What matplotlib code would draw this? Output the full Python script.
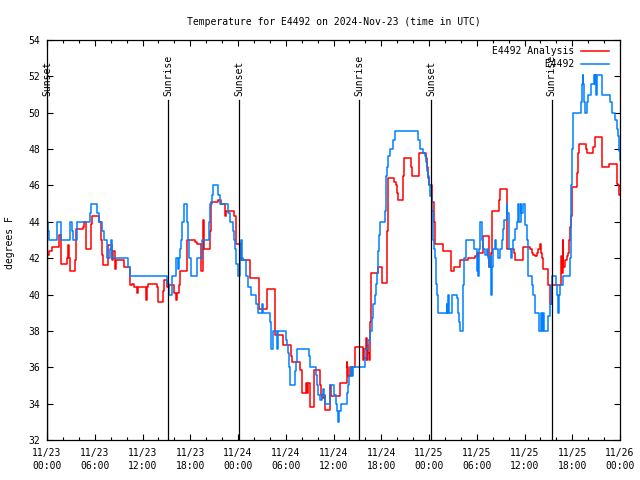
#!/usr/bin/env python3

import numpy as np
import pandas as pd

import matplotlib
matplotlib.use("Agg")

import matplotlib.pyplot as plt
import matplotlib.dates as mdates


# --- data (hours after 2024-11-23 00:00 UTC, deg F) ---
start = pd.Timestamp("2024-11-23 00:00")

obs_hours = [0.0, 0.15, 0.29, 1.3, 1.72, 2.89, 3.1, 3.3, 3.8, 5.4, 5.55, 6.3, 6.5, 6.87, 7.16, 7.5, 7.6, 7.9, 8.1, 8.2,
             10.2, 10.43, 15.12, 15.37, 15.67, 16.2, 16.4, 16.6, 16.71, 16.85, 16.92, 17.2, 17.55, 17.76, 17.88, 18.05,
             18.81, 19.5, 20.3, 20.5, 20.69, 20.9, 21.53, 21.75, 22.7, 23.0, 23.33, 23.5, 23.65, 23.8, 23.95, 24.04,
             24.25, 24.4, 24.55, 24.67, 25.0, 25.3, 25.6, 26.3, 26.55, 27.0, 27.1, 28.0, 28.2, 28.45, 28.9, 29.0,
             30.0, 30.2, 30.31, 30.45, 30.55, 31.1, 31.3, 31.45, 32.95, 33.1, 33.8, 33.9, 34.1, 34.3, 34.6, 34.72,
             34.8, 34.9, 35.6, 36.1, 36.35, 36.5, 36.6, 36.7, 36.9, 37.75, 37.85, 38.0, 38.15, 38.3, 38.4, 39.96,
             40.1, 40.38, 40.6, 40.8, 41.0, 41.2, 41.35, 41.43, 41.64, 41.78, 41.85, 42.47, 42.6, 42.68, 42.9, 43.1,
             43.52, 43.73, 46.66, 46.87, 47.2, 47.5, 47.6, 47.71, 47.85, 48.0, 48.13, 48.33, 48.45, 48.54, 48.6,
             48.75, 48.88, 49.0, 49.17, 50.22, 50.3, 50.43, 50.55, 50.85, 51.48, 51.69, 51.8, 51.9, 52.23, 52.32,
             52.45, 52.6, 53.65, 54.0, 54.1, 54.2, 54.3, 54.41, 54.6, 54.7, 54.83, 55.04, 55.25, 55.46, 55.55, 55.67,
             55.75, 55.85, 55.9, 56.0, 56.1, 56.3, 56.45, 56.72, 56.93, 57.14, 57.25, 57.4, 57.76, 57.85, 58.0, 58.1,
             58.25, 58.39, 58.6, 58.81, 59.02, 59.23, 59.35, 59.5, 59.6, 59.86, 60.07, 60.28, 60.4, 60.49, 60.91,
             61.12, 61.33, 61.88, 62.05, 62.17, 62.3, 62.47, 63.0, 63.22, 63.3, 63.4, 63.95, 64.04, 64.2, 64.3, 64.46,
             64.88, 65.72, 65.8, 65.9, 66.0, 66.14, 67.1, 67.18, 67.3, 67.39, 67.47, 67.55, 67.85, 67.93, 68.4, 68.7,
             68.8, 68.9, 69.0, 69.1, 69.7, 69.8, 70.74, 70.95, 71.35, 71.58, 71.79, 71.9, 72.0]
obs_temp = [44.0, 43.5, 43.0, 44.0, 43.0, 44.0, 43.5, 43.0, 44.0, 44.5, 45.0, 44.5, 44.0, 43.5, 43.0, 42.5, 42.0, 42.5, 43.0, 42.0,
            41.5, 41.0, 40.6, 40.0, 41.0, 42.0, 41.4, 42.0, 42.5, 43.0, 44.0, 45.0, 44.0, 43.0, 42.0, 41.0,
            42.0, 43.0, 44.0, 45.0, 45.5, 46.0, 45.5, 45.0, 44.5, 44.0, 43.5, 43.0, 42.5, 41.7, 41.2, 41.0,
            41.9, 43.0, 42.0, 41.9, 41.0, 40.4, 40.0, 39.5, 39.0, 39.5, 39.0, 38.5, 37.0, 38.0, 37.0, 38.0,
            37.5, 37.2, 36.8, 36.0, 35.0, 35.8, 36.3, 37.0, 36.6, 36.0, 35.6, 35.0, 34.5, 34.2, 34.5, 34.8,
            34.4, 34.0, 35.0, 34.5, 34.0, 33.6, 33.0, 33.6, 34.0, 34.6, 35.0, 35.5, 36.0, 35.5, 36.0, 36.5,
            37.0, 37.5, 38.0, 38.7, 39.5, 40.0, 40.6, 41.2, 42.4, 43.3, 44.0, 44.6, 46.5, 47.0, 47.6, 48.0,
            48.5, 49.0, 48.5, 48.0, 47.8, 47.6, 47.3, 46.8, 46.5, 46.0, 45.4, 44.6, 44.0, 43.0, 42.5,
            42.0, 40.6, 40.0, 39.0, 39.5, 39.0, 40.0, 39.0, 40.0, 39.8, 39.0, 38.5, 38.0, 38.5, 40.5,
            42.0, 43.0, 42.5, 41.3, 42.0, 41.0, 42.5, 44.0, 43.5, 43.0, 42.5, 42.2, 42.5, 42.0, 41.5, 42.1,
            40.5, 40.0, 41.5, 42.1, 42.5, 43.0, 42.5, 42.0, 42.5, 43.0, 43.6, 44.1, 45.0, 44.5, 43.0, 42.5,
            42.0, 42.5, 43.0, 43.6, 44.0, 45.0, 44.0, 45.0, 44.5, 45.0, 43.8, 43.0, 42.1, 41.0, 40.5,
            40.0, 39.0, 38.0, 39.0, 38.0, 39.0, 38.0, 38.8, 39.5, 40.5, 41.0, 40.5, 40.0, 39.0, 40.0, 40.5,
            41.0, 42.0, 43.0, 46.0, 48.0, 50.0, 50.6, 51.6, 52.1, 51.6, 50.6, 50.0, 50.6, 51.0, 51.6, 52.1,
            51.6, 52.1, 51.0, 52.1, 51.6, 51.0, 50.6, 50.0, 49.6, 49.1, 48.7, 47.9, 47.4]

ana_hours = [0.0, 0.3, 0.59, 1.55, 1.72, 2.47, 2.68, 2.81, 2.89, 3.52, 3.64, 4.48, 4.65, 4.9, 5.53, 5.7, 6.58, 6.79,
             6.87, 6.99, 7.62, 8.13, 8.34, 8.55, 8.67, 9.68, 10.43, 10.7, 10.98, 11.27, 11.48, 12.44, 12.52, 12.73,
             13.85, 13.99, 14.62, 14.7, 15.12, 15.3, 15.96, 16.2, 16.38, 16.63, 16.75, 17.55, 18.6, 18.9, 19.35,
             19.56, 19.73, 20.48, 20.6, 21.53, 21.82, 22.37, 22.5, 23.5, 23.75, 24.4, 25.45, 25.55, 26.6, 26.7,
             27.65, 27.7, 28.64, 29.6, 29.69, 30.6, 30.74, 31.79, 32.1, 32.6, 32.68, 32.8, 33.04, 33.6, 34.3, 34.4,
             34.6, 34.85, 34.95, 35.6, 35.65, 36.85, 37.65, 37.7, 37.75, 37.8, 38.07, 38.75, 39.66, 39.85, 40.05,
             40.17, 40.25, 40.38, 40.5, 40.6, 40.7, 41.64, 42.1, 42.75, 42.8, 43.6, 43.85, 43.94, 44.15, 44.78,
             44.85, 45.7, 45.83, 46.7, 46.8, 47.6, 47.75, 47.85, 48.0, 48.34, 48.65, 48.76, 49.8, 50.8, 51.1,
             51.85, 52.9, 53.78, 54.0, 54.1, 54.2, 54.83, 55.55, 55.6, 55.75, 55.88, 56.8, 56.93, 57.76, 57.85,
             58.7, 58.81, 59.75, 59.86, 60.7, 60.9, 61.12, 61.33, 61.54, 61.75, 61.96, 62.05, 62.15, 62.33, 62.9,
             63.0, 63.15, 63.45, 64.55, 64.65, 64.78, 64.88, 65.09, 65.3, 65.51, 65.65, 65.72, 65.82, 65.93,
             66.55, 66.7, 66.85, 67.7, 67.85, 68.65, 68.86, 69.7, 69.8, 70.6, 71.6, 71.75, 71.9, 72.0]
ana_temp = [42.2, 42.4, 42.6, 43.3, 41.7, 42.0, 42.7, 42.0, 41.3, 41.9, 43.6, 43.7, 44.0, 42.5, 43.9, 44.3, 44.0, 43.0,
            42.2, 41.6, 42.7, 41.9, 42.4, 41.4, 41.9, 41.5, 40.5, 40.6, 40.4, 40.1, 40.4, 39.7, 40.4, 40.6,
            40.4, 39.6, 40.2, 40.8, 40.4, 40.5, 40.1, 39.7, 40.1, 40.5, 41.3, 43.0, 42.9, 42.8, 41.3,
            44.1, 42.5, 43.5, 45.1, 45.2, 45.0, 44.3, 44.6, 44.3, 42.8, 41.9, 41.3, 40.9, 40.1, 39.2,
            39.7, 40.3, 37.8, 37.6, 37.2, 36.6, 36.3, 35.85, 34.6, 35.15, 34.6, 35.15, 33.8, 35.85, 35.0, 34.5,
            34.3, 34.5, 33.65, 35.0, 34.4, 35.15, 35.7, 36.3, 36.0, 35.5, 36.0, 37.1, 36.4, 37.0, 37.6,
            36.4, 37.2, 36.8, 36.4, 38.5, 41.2, 41.5, 40.65, 43.5, 46.4, 46.2, 46.0, 45.6, 45.2, 46.5,
            47.5, 47.0, 46.5, 47.2, 47.8, 47.5, 47.0, 46.4, 46.0, 45.1, 44.0, 42.8, 42.4, 41.3, 41.5,
            41.9, 42.0, 42.1, 42.3, 41.5, 42.3, 43.2, 43.0, 41.5, 42.3, 44.6, 45.2, 45.8, 44.3, 42.5,
            42.3, 41.9, 42.2, 42.6, 42.5, 42.3, 42.2, 42.1, 42.3, 42.5, 42.8, 42.3, 42.0, 41.4, 40.9,
            40.5, 39.5, 40.5, 42.1, 41.2, 43.0, 41.5, 41.9, 42.1, 42.3, 43.0, 43.7, 44.3, 45.9,
            46.7, 47.8, 48.3, 48.0, 47.8, 48.1, 48.65, 47.8, 47.0, 47.2, 46.1, 46.0, 45.5, 45.5]

event_hours = [0.05, 15.25, 24.17, 39.25, 48.28, 63.4]
event_names = ["Sunset", "Sunrise", "Sunset", "Sunrise", "Sunset", "Sunrise"]

series_names = ["E4492 Analysis", "E4492"]
series_colors = ["#ff0000", "#0080ff"]

# --- plot ---
plt.rcParams['font.family'] = ['DejaVu Sans Mono']
plt.rcParams['font.size'] = 7

fig = plt.figure(figsize=(6.4, 4.8), dpi=100)
ax = fig.add_axes([47/640, 40/480, 573/640, 400/480])

t_ana = start + pd.to_timedelta(ana_hours, unit='h')
t_obs = start + pd.to_timedelta(obs_hours, unit='h')

ax.plot(t_ana, ana_temp, drawstyle='steps-post', color=series_colors[0], lw=1.1, label=series_names[0])
ax.plot(t_obs, obs_temp, drawstyle='steps-post', color=series_colors[1], lw=1.1,
        label=series_names[1].rjust(len(series_names[0])))

for h, name in zip(event_hours, event_names):
    t = start + pd.Timedelta(hours=h)
    ax.plot([t, t], [32, 50.7], color='black', lw=0.9)
    ax.text(t, 50.92, name, rotation=90, ha='center', va='bottom')

ax.set_xlim(start, start + pd.Timedelta(hours=72))
ax.set_ylim(32, 54)
ax.set_yticks(np.arange(32, 55, 2))

ax.xaxis.set_major_locator(mdates.HourLocator(byhour=range(0, 24, 6)))
ax.xaxis.set_minor_locator(mdates.HourLocator(byhour=range(0, 24, 2)))
ax.xaxis.set_major_formatter(mdates.DateFormatter('%m/%d\n%H:%M'))

ax.tick_params(which='both', direction='in', top=True, right=True, color='black', width=0.8)
ax.tick_params(which='major', length=4.5)
ax.tick_params(which='minor', length=2.2)
ax.tick_params(axis='x', pad=6)
ax.tick_params(axis='y', pad=5)
for s in ax.spines.values():
    s.set_linewidth(0.9)

ax.set_title("Temperature for E4492 on 2024-Nov-23 (time in UTC)", fontsize=7, pad=11)
fig.text(10/640, 0.494, "degrees F", rotation=90, ha='center', va='center')

ax.legend(loc='upper right', bbox_to_anchor=(0.981, 0.985), frameon=False, markerfirst=False,
          handlelength=2.9, handletextpad=0.7, labelspacing=0.3, borderpad=0, borderaxespad=0)

fig.canvas.draw()
plt.setp(ax.get_xticklabels(), linespacing=1.35)

fig.savefig("out.png", dpi=100)
